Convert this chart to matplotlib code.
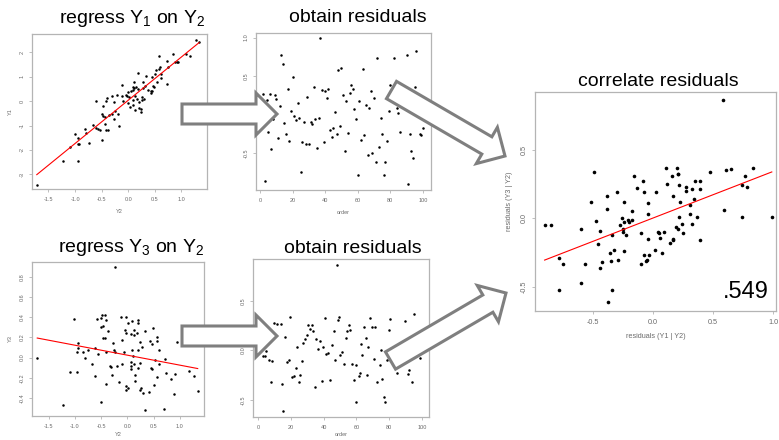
import numpy as np
import matplotlib.pyplot as plt
from matplotlib.patches import Polygon

# ---- data ----
# top left: Y1 vs Y2
y2_top = [-1.72, -1.22, -1.10, -1.01, -0.94, -0.94, -0.92, -0.94, -0.82, -0.79,
          -0.74, -0.67, -0.60, -0.60, -0.57, -0.54, -0.48, -0.50, -0.47, -0.44,
          -0.49, -0.43, -0.42, -0.38, -0.41, -0.40, -0.31, -0.37, -0.30, -0.26,
          -0.26, -0.25, -0.21, -0.19, -0.18, -0.12, -0.11, -0.09, -0.05, -0.03,
          -0.01, -0.01, 0.02, 0.03, 0.06, 0.08, 0.08, 0.09, 0.10, 0.09,
          0.11, 0.13, 0.12, 0.15, 0.17, 0.19, 0.19, 0.20, 0.21, 0.23,
          0.24, 0.25, 0.26, 0.28, 0.28, 0.29, 0.31, 0.34, 0.37, 0.42,
          0.43, 0.45, 0.47, 0.45, 0.48, 0.50, 0.53, 0.54, 0.57, 0.59,
          0.58, 0.62, 0.62, 0.72, 0.72, 0.75, 0.84, 0.88, 0.91, 0.94,
          1.08, 1.16, 1.27, 1.33]
y1 = [-3.42, -2.47, -1.89, -1.33, -1.53, -1.77, -1.74, -2.47, -1.16, -1.32,
      -1.71, -0.96, 0.00, -1.10, -1.14, -1.19, -0.19, -0.52, -0.60, -0.67,
      -1.60, -0.92, -1.19, -1.18, 0.00, 0.14, 0.22, -0.58, -0.51, -0.74,
      -0.04, -0.41, 0.25, -0.51, -1.03, 0.67, 0.21, 0.01, 0.27, 0.23,
      0.38, -0.08, 0.18, -0.23, 0.40, 0.45, 0.03, -0.14, 0.78, 0.59,
      0.53, 0.21, -0.37, 0.56, 0.07, 1.14, 0.48, -0.04, -0.27, -0.34,
      -0.45, 0.04, 0.16, 0.52, 0.78, 0.10, 0.62, 1.04, 0.45, 0.34,
      0.42, 1.00, 0.63, 0.42, 0.56, 1.11, 1.26, 0.78, 1.86, 1.38,
      1.30, 1.11, 0.95, 1.64, 0.70, 1.41, 1.93, 1.60, 1.59, 1.62,
      1.93, 1.85, 2.51, 2.44]

# top middle: residuals of Y1 by order
order1 = list(range(2, 81)) + [82, 84, 85, 86, 87, 90, 91, 92, 93, 94, 95, 96, 98, 99, 100]
resid1 = [0.27, -0.86, 0.19, -0.22, 0.27, -0.45, -0.06, 0.25, 0.20, -0.30,
          0.11, 0.78, 0.66, -0.11, -0.25, 0.33, -0.34, 0.04, 0.49, -0.02,
          -0.07, 0.15, -0.05, -0.75, -0.36, -0.10, -0.38, 0.23, -0.38, -0.09,
          -0.12, 0.36, -0.06, -0.44, -0.04, 0.99, 0.32, -0.36, 0.31, 0.21,
          0.33, -0.20, -0.29, -0.17, 0.03, -0.25, 0.58, -0.15, 0.60, 0.25,
          -0.47, 0.17, -0.24, 0.28, 0.39, 0.33, 0.07, -0.06, -0.78, 0.17,
          -0.33, 0.59, -0.27, 0.13, -0.52, 0.09, 0.31, -0.50, 0.22, -0.61,
          0.74, -0.42, -0.04, -0.25, -0.78, -0.61, -0.34, 0.04, 0.39,
          0.74, 0.09, 0.02, -0.23, 0.39, 0.77, -0.90, -0.25, -0.47, -0.57,
          0.36, 0.83, -0.25, -0.26, -0.17]

# bottom left: Y3 vs Y2
y2_bot = [-1.72, -1.23, -1.10, -1.01, -0.96, -0.96, -0.94, -0.94, -0.85, -0.81,
          -0.75, -0.68, -0.61, -0.61, -0.58, -0.56, -0.51, -0.49, -0.50, -0.47,
          -0.47, -0.43, -0.42, -0.41, -0.50, -0.40, -0.38, -0.41, -0.34, -0.31,
          -0.29, -0.27, -0.26, -0.23, -0.23, -0.19, -0.17, -0.13, -0.11, -0.10,
          -0.07, -0.04, -0.03, -0.03, -0.02, -0.02, 0.01, 0.01, 0.06, 0.06,
          0.06, 0.06, 0.08, 0.09, 0.11, 0.12, 0.13, 0.13, 0.15, 0.15,
          0.18, 0.20, 0.21, 0.20, 0.21, 0.23, 0.24, 0.24, 0.26, 0.27,
          0.29, 0.33, 0.34, 0.42, 0.43, 0.45, 0.46, 0.47, 0.49, 0.50,
          0.52, 0.56, 0.57, 0.57, 0.60, 0.61, 0.71, 0.73, 0.70, 0.83,
          0.89, 0.91, 0.94, 1.17, 1.26, 1.34]
y3 = [0.00, -0.47, -0.14, 0.38, 0.06, -0.14, 0.15, 0.10, 0.06, 0.00,
      0.08, -0.06, 0.10, -0.18, 0.38, 0.04, 0.39, 0.42, 0.30, 0.31,
      0.19, 0.19, 0.42, 0.37, -0.44, -0.26, 0.26, 0.06, -0.08, -0.09,
      -0.17, 0.15, 0.08, 0.90, 0.06, -0.08, -0.24, 0.40, 0.18, -0.06,
      0.06, 0.27, 0.24, -0.28, 0.40, -0.32, -0.30, 0.34, -0.04, -0.08,
      -0.11, 0.23, 0.36, 0.08, 0.02, 0.27, -0.06, 0.22, -0.17, -0.23,
      0.24, 0.37, 0.34, 0.08, -0.10, -0.32, 0.16, -0.05, -0.30, 0.11,
      -0.35, 0.26, -0.52, -0.34, 0.17, -0.10, 0.14, -0.11, 0.29, -0.27,
      -0.02, 0.20, 0.17, -0.19, 0.08, -0.06, -0.01, -0.15, -0.51, -0.21,
      -0.36, -0.16, 0.16, -0.13, -0.18, -0.33]

# bottom middle: residuals of Y3 by order
order3 = [3.0, 4.3, 5.1, 6.7, 7.7, 8.7, 9.8, 11.8, 13.8, 14.4,
          15.2, 16.7, 17.9, 18.7, 19.7, 20.9, 22.0, 23.0, 24.0, 24.8,
          25.8, 26.6, 27.4, 28.7, 29.9, 30.7, 31.7, 32.9, 33.7, 35.0,
          35.6, 36.8, 37.6, 38.8, 39.6, 40.9, 41.7, 42.7, 43.7, 44.9,
          46.1, 46.9, 48.0, 48.8, 49.4, 50.2, 51.4, 52.2, 53.5, 54.3,
          55.5, 56.3, 57.5, 58.5, 59.6, 60.0, 61.6, 62.0, 62.8, 63.6,
          64.6, 65.7, 66.3, 67.3, 68.5, 69.7, 70.7, 71.5, 72.8, 74.2,
          74.8, 75.8, 76.8, 77.6, 78.9, 79.9, 80.7, 84.6, 89.4, 91.7,
          92.3, 93.7, 95.1, 98.6]
resid3 = [-0.06, -0.06, -0.01, -0.10, -0.32, -0.11, 0.28, 0.27, 0.27, -0.34,
          -0.61, 0.14, -0.12, -0.10, 0.34, -0.27, -0.26, -0.18, 0.03, -0.32,
          -0.25, -0.11, 0.07, 0.11, 0.16, 0.26, 0.22, 0.26, 0.20, -0.37,
          0.11, 0.01, 0.09, -0.31, 0.03, 0.33, -0.04, -0.03, -0.30, 0.05,
          0.20, -0.10, 0.86, 0.31, 0.34, -0.05, -0.02, -0.14, 0.12, 0.20,
          0.26, 0.21, -0.14, -0.30, -0.15, -0.52, -0.26, -0.23, 0.06, -0.05,
          0.24, 0.12, -0.25, 0.03, 0.33, 0.24, -0.09, 0.24, -0.32, -0.15,
          0.00, -0.29, -0.47, -0.52, -0.10, 0.21, 0.32, -0.23, 0.30, -0.24,
          -0.20, -0.32, 0.37, -0.08]

# right: residuals vs residuals
rx = [-0.90, -0.85, -0.78, -0.78, -0.75, -0.60, -0.60, -0.56, -0.51, -0.49,
      -0.47, -0.46, -0.44, -0.44, -0.42, -0.38, -0.38, -0.36, -0.35, -0.37,
      -0.34, -0.34, -0.32, -0.30, -0.29, -0.27, -0.26, -0.25, -0.25, -0.24,
      -0.24, -0.24, -0.22, -0.21, -0.20, -0.17, -0.17, -0.16, -0.13, -0.10,
      -0.10, -0.08, -0.07, -0.07, -0.06, -0.05, -0.04, -0.04, -0.04, -0.03,
      0.02, 0.03, 0.04, 0.05, 0.06, 0.08, 0.09, 0.11, 0.12, 0.14,
      0.16, 0.17, 0.17, 0.17, 0.19, 0.20, 0.21, 0.21, 0.21, 0.22,
      0.22, 0.23, 0.24, 0.25, 0.28, 0.28, 0.31, 0.31, 0.33, 0.33,
      0.34, 0.35, 0.37, 0.39, 0.39, 0.39, 0.48, 0.58, 0.59, 0.61,
      0.65, 0.74, 0.74, 0.77, 0.78, 0.83, 0.99]
ry = [-0.05, -0.05, -0.29, -0.52, -0.33, -0.08, -0.47, -0.33, 0.12, 0.34,
      -0.02, -0.19, -0.09, -0.36, -0.32, 0.16, 0.07, -0.25, -0.31, -0.61,
      -0.52, -0.12, -0.23, 0.19, -0.30, -0.05, 0.00, -0.08, -0.10, -0.03,
      0.12, -0.24, -0.12, -0.01, -0.03, 0.05, -0.01, 0.31, 0.22, -0.11,
      -0.33, 0.27, -0.27, 0.19, -0.31, -0.30, -0.15, 0.11, 0.03, -0.27,
      -0.23, 0.19, -0.10, -0.11, -0.14, -0.25, -0.10, 0.37, 0.25, -0.18,
      0.31, -0.16, 0.16, -0.15, -0.06, 0.37, 0.32, 0.32, -0.08, 0.01,
      0.24, 0.12, -0.04, -0.11, 0.23, 0.20, 0.03, 0.10, -0.04, 0.21,
      0.14, 0.27, 0.01, 0.27, -0.16, 0.21, 0.34, 0.86, 0.06, 0.35,
      0.36, 0.24, 0.01, 0.31, 0.23, 0.37, 0.01]
r_value = ".549"

# tick labels
y2_ticks = [-1.5, -1.0, -0.5, 0.0, 0.5, 1.0]
y2_labels = ["-1.5", "-1.0", "-0.5", "0.0", "0.5", "1.0"]
y1_ticks = [-3, -2, -1, 0, 1, 2]
y1_labels = ["-3", "-2", "-1", "0", "1", "2"]
order_ticks = [0, 20, 40, 60, 80, 100]
order_labels = ["0", "20", "40", "60", "80", "100"]
res1_ticks = [-0.5, 0.0, 0.5, 1.0]
res1_labels = ["-0.5", "0.0", "0.5", "1.0"]
y3_ticks = [-0.4, -0.2, 0.0, 0.2, 0.4, 0.6, 0.8]
y3_labels = ["-0.4", "-0.2", "0.0", "0.2", "0.4", "0.6", "0.8"]
res3_ticks = [-0.5, 0.0, 0.5]
res3_labels = ["-0.5", "0.0", "0.5"]
rx_ticks = [-0.5, 0.0, 0.5, 1.0]
rx_labels = ["-0.5", "0.0", "0.5", "1.0"]

W, H = 779, 440
plt.rcParams['font.family'] = ['Liberation Sans', 'DejaVu Sans']
plt.rcParams['mathtext.fontset'] = 'custom'
plt.rcParams['mathtext.rm'] = 'Liberation Sans'
plt.rcParams['mathtext.default'] = 'regular'

GRAY_BOX = '#b4b4b4'
GRAY_TXT = '#6a6a6a'

fig = plt.figure(figsize=(W / 100, H / 100), dpi=100)


def panel(l, t, r, b, xlim, ylim, xt, xtl, yt, ytl, xlabel, ylabel, fs=4.0, lpad=5, xlpad=None):
    ax = fig.add_axes([l / W, 1 - b / H, (r - l) / W, (b - t) / H])
    ax.set_xlim(xlim)
    ax.set_ylim(ylim)
    ax.set_xticks(xt)
    ax.set_xticklabels(xtl)
    ax.set_yticks(yt)
    ax.set_yticklabels(ytl, rotation=90, va='center')
    for s in ax.spines.values():
        s.set_color(GRAY_BOX)
        s.set_linewidth(0.9)
    ax.tick_params(length=2.5, width=0.6, color=GRAY_BOX, labelsize=fs,
                   labelcolor=GRAY_TXT, pad=3)
    ax.set_xlabel(xlabel, fontsize=fs, color=GRAY_TXT,
                  labelpad=lpad if xlpad is None else xlpad)
    ax.set_ylabel(ylabel, fontsize=fs, color=GRAY_TXT, labelpad=lpad)
    return ax


def fit_line(ax, x, y):
    x = np.asarray(x)
    k, c = np.polyfit(x, y, 1)
    xs = np.array([x.min(), x.max()])
    ax.plot(xs, k * xs + c, color='red', lw=0.8)


def block_arrow(tail, tip, shaft=20, head=42, hlen=21):
    tail = np.array(tail, float)
    tip = np.array(tip, float)
    d = tip - tail
    u = d / np.hypot(*d)
    n = np.array([-u[1], u[0]])
    base = tip - u * hlen
    pts = np.array([tail + n * shaft / 2, base + n * shaft / 2, base + n * head / 2, tip,
                    base - n * head / 2, base - n * shaft / 2, tail - n * shaft / 2])
    pts[:, 0] /= W
    pts[:, 1] = 1 - pts[:, 1] / H
    fig.add_artist(Polygon(pts, closed=True, transform=fig.transFigure,
                           facecolor='white', edgecolor='#7f7f7f', lw=2.2,
                           joinstyle='miter', zorder=5))


# top left
ax1 = panel(32, 34, 207, 189, (-1.81, 1.48), (-3.6, 2.75),
            y2_ticks, y2_labels, y1_ticks, y1_labels, 'Y2', 'Y1')
ax1.plot(y2_top, y1, 'o', ms=1.8, mew=0, color='black')
fit_line(ax1, y2_top, y1)

# top middle
ax2 = panel(256, 33, 431, 190, (-2.5, 105), (-0.98, 1.06),
            order_ticks, order_labels, res1_ticks, res1_labels, 'order', '')
ax2.plot(order1, resid1, 'o', ms=1.8, mew=0, color='black')

# bottom left
ax3 = panel(32, 262, 204, 416, (-1.82, 1.46), (-0.58, 0.95),
            y2_ticks, y2_labels, y3_ticks, y3_labels, 'Y2', 'Y3', xlpad=2.5)
ax3.plot(y2_bot, y3, 'o', ms=1.8, mew=0, color='black')
fit_line(ax3, y2_bot, y3)

# bottom middle
ax4 = panel(253, 259, 429, 417, (-3.0, 104.3), (-0.67, 0.92),
            order_ticks, order_labels, res3_ticks, res3_labels, 'order', '', xlpad=2)
ax4.plot(order3, resid3, 'o', ms=1.8, mew=0, color='black')

# right
ax5 = panel(535, 92, 776, 311, (-0.98, 1.025), (-0.675, 0.92),
            rx_ticks, rx_labels, res3_ticks, res3_labels,
            'residuals (Y1 | Y2)', 'residuals (Y3 | Y2)', fs=5.2, lpad=5)
ax5.plot(rx, ry, 'o', ms=2.6, mew=0, color='black')
fit_line(ax5, rx, ry)
fig.text(746 / W, 1 - 298 / H, r_value, fontsize=17, ha='center', va='baseline')

# titles
fig.text(132 / W, 1 - 23 / H, 'regress Y$_1$ on Y$_2$', fontsize=14, ha='center', va='baseline')
fig.text(358 / W, 1 - 22 / H, 'obtain residuals', fontsize=14, ha='center', va='baseline')
fig.text(131 / W, 1 - 252 / H, 'regress Y$_3$ on Y$_2$', fontsize=14, ha='center', va='baseline')
fig.text(353 / W, 1 - 253 / H, 'obtain residuals', fontsize=14, ha='center', va='baseline')
fig.text(658 / W, 1 - 86 / H, 'correlate residuals', fontsize=14, ha='center', va='baseline')

# arrows
block_arrow((182, 114), (277, 114))
block_arrow((182, 336), (277, 336))
block_arrow((391.5, 90), (505, 156))
block_arrow((390.5, 360.5), (506, 293))

fig.savefig('out.png', dpi=100)
